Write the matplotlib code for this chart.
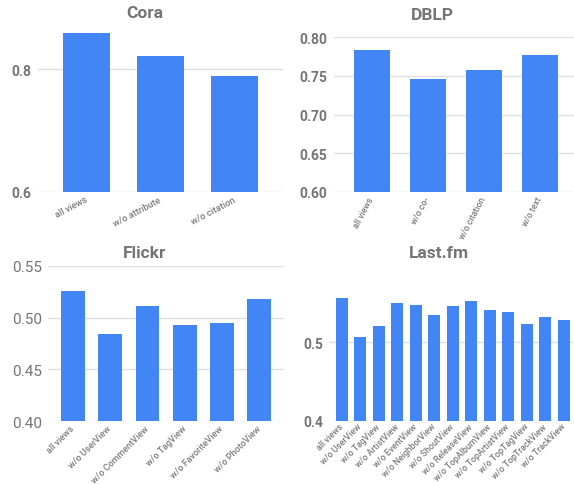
import matplotlib
matplotlib.use("Agg")
import matplotlib.pyplot as plt
import numpy as np

plt.rcParams['font.family'] = ['Roboto', 'DejaVu Sans']

# data
cora_labels = ["all views", "w/o attribute", "w/o citation"]
cora_values = [0.859, 0.822, 0.789]

dblp_labels = ["all views", "w/o co-", "w/o citation", "w/o text"]
dblp_values = [0.7836, 0.746, 0.758, 0.7767]

flickr_labels = ["all views", "w/o UserView", "w/o CommentView", "w/o TagView",
                 "w/o FavoriteView", "w/o PhotoView"]
flickr_values = [0.5256, 0.4843, 0.5116, 0.4926, 0.4952, 0.5183]

lastfm_labels = ["all views", "w/o UserView", "w/o TagView", "w/o ArtistView",
                 "w/o EventView", "w/o NeighborView", "w/o ShoutView",
                 "w/o ReleaseView", "w/o TopAlbumView", "w/o TopArtistView",
                 "w/o TopTagView", "w/o TopTrackView", "w/o TrackView"]
lastfm_values = [0.557, 0.5064, 0.5204, 0.550, 0.5473, 0.5353, 0.5464,
                 0.5524, 0.5413, 0.5387, 0.5238, 0.5328, 0.5281]

BLUE = "#4285F4"
GREY = "#757575"
W, H = 574, 485

fig = plt.figure(figsize=(W / 100, H / 100), dpi=100)


def px_axes(left, right, top, bottom):
    return fig.add_axes([left / W, 1 - bottom / H, (right - left) / W, (bottom - top) / H])


def draw(ax, labels, values, xlim, ylim, yticks, yfmt, rot, ybold=True, ysize=10,
         xsize=6, xpad=3):
    x = np.arange(len(labels))
    ax.bar(x, values, width=0.64, color=BLUE, zorder=3)
    ax.set_xlim(*xlim)
    ax.set_ylim(*ylim)
    ax.set_yticks(yticks)
    ax.set_yticklabels([yfmt.format(v) for v in yticks], color=GREY,
                       fontsize=ysize, fontweight='bold' if ybold else 'normal')
    ax.set_xticks(x)
    ax.set_xticklabels(labels, rotation=rot, ha='right', va='center',
                       rotation_mode='anchor', fontsize=xsize, color="#7a7a7a",
                       fontweight='medium')
    ax.tick_params(length=0, pad=4.5)
    ax.tick_params(axis='x', pad=xpad)
    ax.grid(axis='y', color="#e0e0e0", linewidth=1, zorder=0)
    for s in ax.spines.values():
        s.set_visible(False)
    ax.patch.set_alpha(0)


ax1 = px_axes(37.7, 283.4, 21.3, 192.7)
draw(ax1, cora_labels, cora_values, (-0.66, 2.66), (0.6, 0.88), [0.6, 0.8], "{:.1f}", 28,
     xsize=6.6, xpad=5)

ax2 = px_axes(333.7, 574, 38.3, 192.7)
draw(ax2, dblp_labels, dblp_values, (-0.68, 3.61), (0.6, 0.8),
     [0.60, 0.65, 0.70, 0.75, 0.80], "{:.2f}", 62, xsize=6.2, xpad=4)

ax3 = px_axes(48.3, 284, 266.7, 422.3)
draw(ax3, flickr_labels, flickr_values, (-0.66, 5.66), (0.4, 0.55),
     [0.40, 0.45, 0.50, 0.55], "{:.2f}", 45, ybold=False, ysize=11, xsize=6.5, xpad=4)

ax4 = px_axes(329.3, 574, 265.1, 421.7)
draw(ax4, lastfm_labels, lastfm_values, (-0.67, 12.55), (0.4, 0.6), [0.4, 0.5], "{:.1f}", 45,
     xsize=6.2, xpad=3)

for tx, ty, name in [(145, 14, "Cora"), (432.7, 15, "DBLP"),
                     (145, 253, "Flickr"), (438.7, 253, "Last.fm")]:
    fig.text(tx / W, 1 - ty / H, name, ha='center', va='center', fontsize=12.5,
             fontweight='bold', color=GREY)

fig.savefig("out.png", dpi=100)
